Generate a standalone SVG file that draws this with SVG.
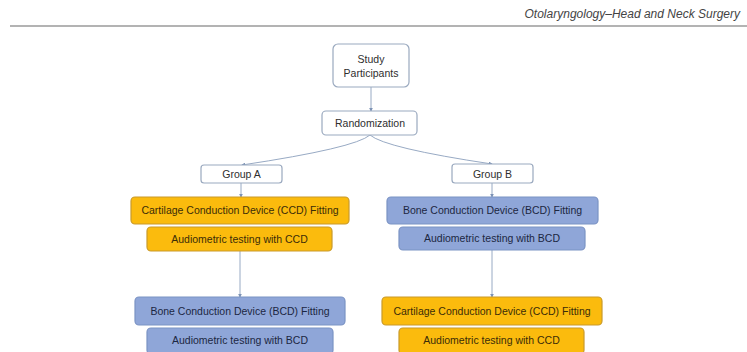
<svg xmlns="http://www.w3.org/2000/svg" width="747" height="352" viewBox="0 0 747 352">
<defs>
<marker id="ah" viewBox="0 0 6 6" refX="5" refY="3" markerWidth="4" markerHeight="4" orient="auto">
<path d="M0,0 L6,3 L0,6 z" fill="#7d93b5"/>
</marker>
<style>
.t{font-family:"Liberation Sans",Arial,sans-serif;font-size:10.5px;text-anchor:middle}
.w rect{fill:#ffffff;stroke:#9aa9bf;stroke-width:1.2}
.w text{fill:#2e2e2e}
.y rect{fill:#fbbb0d;stroke:#c99a2a;stroke-width:1.2}
.y text{fill:#3a2c08}
.b rect{fill:#8fa6d8;stroke:#7b93c4;stroke-width:1.2}
.b text{fill:#1c2742}
.c{fill:none;stroke:#98aac4;stroke-width:1;marker-end:url(#ah)}
</style>
</defs>
<rect width="747" height="352" fill="#ffffff"/>
<g id="header">
<text x="740" y="18" font-family="'Liberation Sans',Arial,sans-serif" font-style="italic" font-size="12" fill="#444444" text-anchor="end">Otolaryngology–Head and Neck Surgery</text>
<line x1="10" y1="26" x2="747" y2="26" stroke="#9a9a9a" stroke-width="1.5"/>
</g>
<g id="connectors">
<path class="c" d="M371,87 L371,111"/>
<path class="c" d="M370,135 Q355,148 242,165"/>
<path class="c" d="M370,135 Q385,148 492,164"/>
<path class="c" d="M241,183 L241,197"/>
<path class="c" d="M492,183 L492,197"/>
<path class="c" d="M240,251 L240,297"/>
<path class="c" d="M492,250 L492,297"/>
</g>
<g id="study" class="w"><rect x="333" y="44" width="76" height="43" rx="5"/><text class="t" x="371" y="63">Study</text><text class="t" x="371" y="77">Participants</text></g>
<g id="randomization" class="w"><rect x="322" y="111" width="95" height="24" rx="4"/><text class="t" x="370" y="126.5">Randomization</text></g>
<g id="groupA" class="w"><rect x="201" y="165" width="81" height="18" rx="3"/><text class="t" x="241.5" y="177.5">Group A</text></g>
<g id="groupB" class="w"><rect x="452" y="164" width="81" height="19" rx="3"/><text class="t" x="492.5" y="177.5">Group B</text></g>
<g id="a_ccd_fit" class="y"><rect x="131" y="197" width="218" height="27" rx="4"/><text class="t" x="240" y="214">Cartilage Conduction Device (CCD) Fitting</text></g>
<g id="a_ccd_aud" class="y"><rect x="147" y="227" width="185" height="24" rx="4"/><text class="t" x="239.5" y="242.5">Audiometric testing with CCD</text></g>
<g id="a_bcd_fit" class="b"><rect x="135" y="297" width="210" height="28" rx="4"/><text class="t" x="240" y="314.5">Bone Conduction Device (BCD) Fitting</text></g>
<g id="a_bcd_aud" class="b"><rect x="147" y="328" width="186" height="26" rx="4"/><text class="t" x="240" y="344">Audiometric testing with BCD</text></g>
<g id="b_bcd_fit" class="b"><rect x="387" y="197" width="211" height="27" rx="4"/><text class="t" x="492.5" y="214">Bone Conduction Device (BCD) Fitting</text></g>
<g id="b_bcd_aud" class="b"><rect x="399" y="227" width="186" height="23" rx="4"/><text class="t" x="492" y="242">Audiometric testing with BCD</text></g>
<g id="b_ccd_fit" class="y"><rect x="382" y="297" width="220" height="28" rx="4"/><text class="t" x="492" y="314.5">Cartilage Conduction Device (CCD) Fitting</text></g>
<g id="b_ccd_aud" class="y"><rect x="399" y="328" width="185" height="26" rx="4"/><text class="t" x="491.5" y="344">Audiometric testing with CCD</text></g>
</svg>
